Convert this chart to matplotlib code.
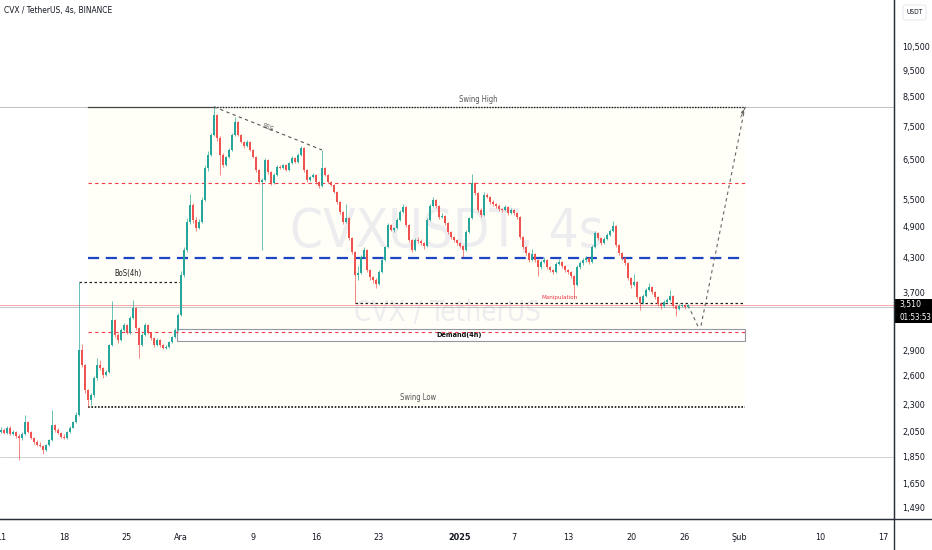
import matplotlib
matplotlib.use("Agg")
import matplotlib.pyplot as plt
import matplotlib.dates as mdates
import numpy as np
import pandas as pd
from matplotlib import font_manager
from matplotlib.lines import Line2D
from matplotlib.patches import Rectangle, FancyBboxPatch
from matplotlib.ticker import FixedLocator, FuncFormatter, NullLocator

# CVX/USDT 8h mumlar, 11 Kasım 2024'ten itibaren (Türkçe yerel ayar: ondalık virgül)
START = "2024-11-11 00:00"
FIRST_OPEN = 2.05
closes = [
    2.067, 2.041, 2.085, 2.033, 2.050, 2.015, 1.998, 2.033, 2.138, 2.050,
    1.998, 1.965, 1.940, 1.932, 1.899, 1.940, 1.981, 2.111, 2.067, 2.041,
    2.007, 1.998, 2.050, 2.085, 2.138, 2.203, 2.902, 2.724, 2.449, 2.347,
    2.398, 2.577, 2.724, 2.689, 2.610, 2.644, 2.965, 3.296, 3.094, 3.028,
    3.159, 3.228, 3.119, 3.325, 3.469, 3.186, 2.965, 3.094, 3.228, 3.119,
    3.054, 2.965, 3.028, 2.965, 2.927, 2.940, 3.002, 3.067, 3.159, 3.367,
    3.990, 4.436, 4.996, 5.370, 5.038, 4.870, 4.996, 5.484, 6.283, 6.640,
    7.228, 7.869, 7.136, 6.640, 6.364, 6.583, 6.781, 7.228, 7.637, 7.228,
    7.015, 6.898, 7.015, 6.781, 6.583, 6.229, 5.920, 5.970, 6.499, 6.177,
    5.895, 6.099, 6.310, 6.283, 6.364, 6.229, 6.415, 6.555, 6.444, 6.640,
    6.839, 6.229, 5.970, 6.046, 6.099, 5.920, 5.821, 6.283, 6.099, 5.920,
    5.846, 5.674, 5.438, 5.212, 4.996, 5.081, 4.668, 4.399, 3.990, 4.020,
    4.306, 4.436, 4.075, 3.956, 3.905, 3.840, 4.041, 4.251, 4.493, 4.932,
    4.829, 4.870, 5.038, 5.212, 5.324, 4.932, 4.628, 4.436, 4.628, 4.600,
    4.570, 4.513, 5.038, 5.347, 5.484, 5.347, 5.102, 5.124, 4.975, 4.788,
    4.687, 4.628, 4.570, 4.513, 4.436, 4.788, 5.081, 5.895, 5.650, 5.256,
    5.146, 5.603, 5.556, 5.438, 5.392, 5.347, 5.278, 5.256, 5.324, 5.190,
    5.256, 5.190, 5.102, 4.687, 4.493, 4.380, 4.251, 4.362, 4.251, 4.127,
    4.215, 4.251, 4.127, 4.075, 4.041, 4.180, 4.215, 4.145, 4.075, 4.041,
    3.973, 3.824, 4.127, 4.198, 4.251, 4.287, 4.215, 4.493, 4.768, 4.668,
    4.570, 4.648, 4.728, 4.809, 4.911, 4.532, 4.380, 4.287, 4.198, 3.939,
    3.824, 3.872, 3.634, 3.543, 3.650, 3.743, 3.791, 3.711, 3.634, 3.528,
    3.498, 3.558, 3.588, 3.650, 3.498, 3.454, 3.498, 3.513, 3.483, 3.510,
]
highs = [
    2.09, 2.08, 2.10, 2.10, 2.07, 2.06, 2.03, 2.05, 2.20, 2.15,
    2.06, 2.01, 1.98, 1.96, 1.94, 1.95, 1.99, 2.25, 2.12, 2.08,
    2.05, 2.03, 2.06, 2.10, 2.15, 2.23, 3.874, 2.98, 2.74, 2.46,
    2.42, 2.60, 2.80, 2.78, 2.70, 2.66, 2.98, 3.57, 3.31, 3.12,
    3.18, 3.26, 3.24, 3.35, 3.59, 3.48, 3.20, 3.12, 3.25, 3.24,
    3.13, 3.07, 3.05, 3.04, 2.98, 2.96, 3.02, 3.08, 3.18, 3.40,
    4.05, 4.50, 5.08, 5.62, 5.42, 5.10, 5.05, 5.55, 6.35, 6.75,
    7.30, 8.14, 7.90, 7.18, 6.70, 6.62, 6.85, 7.30, 7.80, 7.66,
    7.25, 7.05, 7.08, 7.03, 6.80, 6.60, 6.25, 6.02, 6.56, 6.53,
    6.20, 6.14, 6.35, 6.36, 6.40, 6.39, 6.45, 6.60, 6.58, 6.68,
    6.90, 6.86, 6.25, 6.08, 6.14, 6.12, 5.95, 6.78, 6.31, 6.12,
    5.95, 5.87, 5.70, 5.46, 5.24, 5.40, 5.10, 4.69, 4.42, 4.15,
    4.35, 4.50, 4.46, 4.10, 3.98, 3.93, 4.07, 4.28, 4.52, 4.97,
    4.96, 4.90, 5.07, 5.25, 5.40, 5.34, 4.95, 4.65, 4.66, 4.68,
    4.64, 4.59, 5.07, 5.38, 5.56, 5.50, 5.37, 5.18, 5.14, 4.99,
    4.81, 4.71, 4.65, 4.59, 4.53, 4.82, 5.11, 6.13, 5.92, 5.67,
    5.30, 5.68, 5.65, 5.58, 5.48, 5.42, 5.38, 5.31, 5.36, 5.35,
    5.30, 5.28, 5.22, 5.12, 4.71, 4.52, 4.40, 4.45, 4.38, 4.27,
    4.25, 4.30, 4.27, 4.15, 4.10, 4.22, 4.26, 4.24, 4.17, 4.09,
    4.06, 3.99, 4.16, 4.23, 4.29, 4.33, 4.31, 4.53, 4.81, 4.79,
    4.69, 4.68, 4.76, 4.84, 5.02, 4.93, 4.55, 4.40, 4.31, 4.21,
    3.96, 4.00, 3.89, 3.65, 3.68, 3.78, 3.85, 3.80, 3.72, 3.65,
    3.55, 3.58, 3.62, 3.74, 3.66, 3.51, 3.52, 3.53, 3.52, 3.53,
]
lows = [
    2.04, 2.03, 2.03, 2.02, 2.02, 2.00, 1.82, 1.98, 2.02, 2.04,
    1.99, 1.95, 1.93, 1.92, 1.87, 1.89, 1.93, 1.97, 2.05, 2.03,
    2.00, 1.99, 1.99, 2.04, 2.08, 2.13, 2.19, 2.70, 2.42, 2.28,
    2.30, 2.38, 2.56, 2.67, 2.58, 2.60, 2.63, 2.95, 3.06, 2.99,
    3.01, 3.14, 3.10, 3.10, 3.31, 3.16, 2.80, 2.95, 3.08, 3.10,
    3.03, 2.94, 2.95, 2.94, 2.91, 2.91, 2.93, 2.99, 3.05, 3.15,
    3.35, 3.95, 4.40, 4.95, 4.98, 4.80, 4.84, 4.97, 5.45, 6.20,
    6.60, 7.18, 7.05, 6.10, 6.30, 6.33, 6.55, 6.75, 7.20, 7.18,
    6.97, 6.85, 6.87, 6.74, 6.54, 6.18, 5.87, 4.44, 5.94, 6.13,
    5.85, 5.87, 6.07, 6.25, 6.25, 6.20, 6.20, 6.39, 6.42, 6.42,
    6.62, 6.18, 5.93, 5.94, 6.02, 5.88, 5.78, 5.80, 6.06, 5.89,
    5.81, 5.64, 5.40, 5.17, 4.96, 4.97, 4.62, 4.36, 3.544, 3.90,
    4.00, 4.28, 4.04, 3.90, 3.85, 3.78, 3.82, 4.02, 4.23, 4.47,
    4.80, 4.79, 4.85, 5.01, 5.19, 4.89, 4.59, 4.40, 4.41, 4.57,
    4.53, 4.46, 4.49, 5.01, 5.32, 5.31, 5.06, 5.07, 4.94, 4.75,
    4.65, 4.59, 4.53, 4.47, 4.30, 4.42, 4.77, 5.06, 5.60, 5.21,
    5.10, 5.12, 5.52, 5.40, 5.35, 5.30, 5.24, 5.22, 5.23, 5.15,
    5.16, 5.15, 5.06, 4.64, 4.45, 4.34, 4.21, 4.23, 4.21, 3.98,
    4.10, 4.19, 4.09, 4.04, 4.00, 4.02, 4.16, 4.11, 4.04, 4.00,
    3.94, 3.60, 3.80, 4.10, 4.17, 4.22, 4.18, 4.19, 4.47, 4.63,
    4.53, 4.55, 4.62, 4.70, 4.78, 4.49, 4.34, 4.25, 4.16, 3.90,
    3.78, 3.80, 3.60, 3.44, 3.52, 3.63, 3.72, 3.68, 3.60, 3.50,
    3.46, 3.48, 3.54, 3.57, 3.47, 3.35, 3.44, 3.48, 3.46, 3.47,
]

# Seviyeler (USDT)
SWING_HIGH = 8.14
SWING_LOW = 2.278
RED_UPPER = 5.89
BLUE_MID = 4.29
MANIPULATION = 3.544
RED_LOWER = 3.133
DEMAND_TOP, DEMAND_BOTTOM = 3.173, 3.016
BOS_LEVEL = 3.874
SSS_END = 6.78
LAST_PRICE = 3.51
PROJ_LOW = 3.15
GRAY_LOW = 1.843

price_ticks = [10.5, 9.5, 8.5, 7.5, 6.5, 5.5, 4.9, 4.3, 3.7, 2.9, 2.6, 2.3, 2.05, 1.85, 1.65, 1.49]
date_ticks = ["2024-11-11", "2024-11-18", "2024-11-25", "2024-12-01", "2024-12-09", "2024-12-16",
              "2024-12-23", "2025-01-01", "2025-01-07", "2025-01-13", "2025-01-20", "2025-01-26",
              "2025-02-01", "2025-02-10", "2025-02-17"]
date_labels = ["11", "18", "25", "Ara", "9", "16", "23", "2025", "7", "13", "20", "26", "Şub", "10", "17"]

GREEN = "#26a69a"
RED = "#ef5350"
TEXT = "#131722"
AXIS = "#2a2e39"

names = {f.name for f in font_manager.fontManager.ttflist}
if "Liberation Sans Narrow" in names:
    plt.rcParams["font.family"] = ["Liberation Sans Narrow", "DejaVu Sans"]
else:
    plt.rcParams["font.family"] = ["DejaVu Sans"]
    plt.rcParams["font.stretch"] = "condensed"

W, H = 932, 550
fig = plt.figure(figsize=(W / 100, H / 100), dpi=100)
ax = fig.add_axes([0, 31 / H, 894 / W, 519 / H])
ax.set_facecolor("white")


def d(s):
    return mdates.date2num(pd.Timestamp(s))


times = pd.date_range(START, periods=len(closes), freq="8h")
x = mdates.date2num(times)
closes = np.array(closes)
opens = np.r_[FIRST_OPEN, closes[:-1]]
colors = np.where(closes >= opens, GREEN, RED)

ax.vlines(x, lows, highs, colors=colors, linewidth=0.7, alpha=0.7, zorder=4)
ax.bar(x, np.abs(closes - opens), bottom=np.minimum(opens, closes), width=0.2,
       color=colors, linewidth=0, zorder=5)

ax.set_yscale("log")
ax.set_ylim(1.4166, 12.81)
x0 = d(START)
ax.set_xlim(x0 - 0.11, x0 + 99.22)

zs, ze = d("2024-11-20 16:00"), d("2025-02-01 16:00")

# kutu ve seviyeler
ax.add_patch(Rectangle((zs, SWING_LOW), ze - zs, SWING_HIGH - SWING_LOW,
                       facecolor="#fffef7", edgecolor="none", zorder=0))
ax.axhline(SWING_HIGH, color="#b2b5be", lw=0.6, zorder=1)
ax.axhline(GRAY_LOW, color="#c8cad0", lw=0.6, zorder=1)
ax.axhline(LAST_PRICE, color="#f7a5a5", lw=0.7, zorder=1)
ax.axhline(3.475, color="#b8bac0", lw=0.6, zorder=1)

hs = d("2024-12-04 16:00")
ax.plot([zs, hs], [SWING_HIGH] * 2, color="#444", lw=0.9, zorder=2)
ax.plot([hs, ze], [SWING_HIGH] * 2, color="#222", lw=1.0, ls=(0, (1, 1)), zorder=2)
ax.plot([zs, ze], [SWING_LOW] * 2, color="#111", lw=1.2, ls=(0, (1, 1)), zorder=2)
ax.plot([zs, ze], [RED_UPPER] * 2, color="#f23645", lw=0.8, ls=(0, (3, 3)), zorder=2)
ax.plot([zs, ze], [BLUE_MID] * 2, color="#1c45c4", lw=1.6, ls=(0, (5, 3)), zorder=2)
ax.plot([d("2024-12-20 08:00"), ze], [MANIPULATION] * 2, color="#222", lw=0.9,
        ls=(0, (2, 2)), zorder=2)

dm = d("2024-11-30 13:00")
ax.add_patch(Rectangle((dm, DEMAND_BOTTOM), ze - dm, DEMAND_TOP - DEMAND_BOTTOM,
                       facecolor="white", edgecolor="#9598a1", lw=0.8, zorder=3))
ax.plot([zs, ze], [RED_LOWER] * 2, color="#f23645", lw=0.8, ls=(0, (3, 3)), zorder=3.5)
ax.plot([d("2024-11-19 16:00"), d("2024-11-30 21:00")], [BOS_LEVEL] * 2, color="#222",
        lw=0.9, ls=(0, (2, 2)), zorder=2)
ax.plot([hs, d("2024-12-16 16:00")], [SWING_HIGH, SSS_END], color="#555", lw=0.8,
        ls=(0, (3, 3)), zorder=2)

# projeksiyon
px = [d("2025-01-26 08:00"), d("2025-01-27 16:00"), ze]
py = [LAST_PRICE, PROJ_LOW, SWING_HIGH]
ax.plot(px, py, color="#666", lw=0.8, ls=(0, (3, 3)), zorder=2)
ax.annotate("", xy=(px[2], py[2]), xytext=(px[2] - 0.6, 7.7),
            arrowprops=dict(arrowstyle="-|>", color="#666", lw=0.6, mutation_scale=5), zorder=2)

# yazılar
ax.text(d("2025-01-03 00:00"), 8.40, "Swing High", fontsize=5.5, color="#555",
        ha="center", va="center", zorder=6)
ax.text(d("2024-12-27 07:00"), 2.37, "Swing Low", fontsize=5.5, color="#555",
        ha="center", va="center", zorder=6)
ax.text(d("2025-01-12 02:00"), 3.63, "Manipulation", fontsize=4.5, color="#f23645",
        ha="center", va="center", zorder=6)
ax.text(d("2024-12-31 22:00"), 3.093, "Demand(4h)", fontsize=5.2, color="#111",
        ha="center", va="center", weight="bold", zorder=6)
ax.text(d("2024-11-25 02:00"), 4.02, "BoS(4h)", fontsize=5.5, color="#222",
        ha="center", va="center", zorder=6)
ax.text(d("2024-12-10 16:00"), 7.45, "SSS", fontsize=5, color="#555", rotation=-23,
        ha="center", va="center", zorder=6)

# filigran
ax.text(0.5, 0.553, "CVXUSDT, 4s", transform=ax.transAxes, fontsize=38, color="#ededf0",
        ha="center", va="center", zorder=0.5)
ax.text(0.5, 0.397, "CVX / TetherUS", transform=ax.transAxes, fontsize=20, color="#ededf0",
        ha="center", va="center", zorder=0.5)

# eksenler
for side in ("top", "left"):
    ax.spines[side].set_visible(False)
ax.spines["right"].set_color(AXIS)
ax.spines["bottom"].set_color(AXIS)
ax.yaxis.tick_right()
ax.yaxis.set_major_locator(FixedLocator(price_ticks))
ax.yaxis.set_minor_locator(NullLocator())
ax.yaxis.set_major_formatter(FuncFormatter(lambda v, p: f"{v:.3f}".replace(".", ",")))
ax.tick_params(axis="y", length=0, pad=6, labelsize=6.5, labelcolor=TEXT)
ax.xaxis.set_major_locator(FixedLocator([d(s) for s in date_ticks]))
ax.xaxis.set_minor_locator(NullLocator())
ax.set_xticklabels(date_labels)
ax.tick_params(axis="x", length=0, pad=10, labelsize=6.5, labelcolor=TEXT)
for lbl in ax.get_xticklabels():
    if lbl.get_text() == "2025":
        lbl.set_fontweight("bold")

fig.add_artist(Line2D([894 / W, 894 / W], [0, 1], color=AXIS, lw=1))
fig.add_artist(Line2D([0, 1], [31 / H, 31 / H], color=AXIS, lw=1))

fig.text(4 / W, 1 - 11 / H, "CVX / TetherUS, 4s, BINANCE", fontsize=6, color=TEXT,
         ha="left", va="center")

fig.add_artist(FancyBboxPatch((903 / W, 1 - 20 / H), 23 / W, 15 / H,
                              boxstyle="round,pad=0,rounding_size=0.004",
                              transform=fig.transFigure, facecolor="white",
                              edgecolor="#e0e3eb", lw=0.6))
fig.text(914.5 / W, 1 - 12.5 / H, "USDT", fontsize=4.8, color=TEXT, ha="center", va="center")

fig.add_artist(Rectangle((895 / W, 1 - 323 / H), 37 / W, 24 / H, transform=fig.transFigure,
                         facecolor="#000000", edgecolor="none"))
fig.text(899 / W, 1 - 305 / H, f"{LAST_PRICE:.3f}".replace(".", ","), fontsize=6.2,
         color="white", ha="left", va="center")
fig.text(899 / W, 1 - 317 / H, "01:53:53", fontsize=5.8, color="white", ha="left", va="center")

fig.savefig("out.png", dpi=100, facecolor="white")
